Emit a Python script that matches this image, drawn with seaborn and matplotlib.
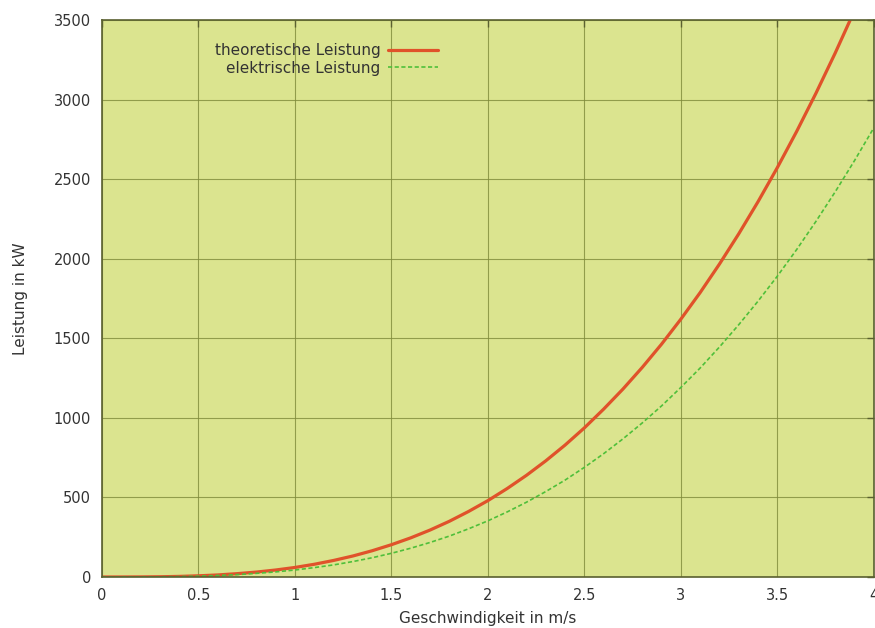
import matplotlib
matplotlib.use("Agg")
import matplotlib.pyplot as plt
import seaborn as sns
import pandas as pd

speed = [0.0, 0.1, 0.2, 0.3, 0.4, 0.5, 0.6, 0.7, 0.8, 0.9, 1.0, 1.1, 1.2, 1.3, 1.4,
         1.5, 1.6, 1.7, 1.8, 1.9, 2.0, 2.1, 2.2, 2.3, 2.4, 2.5, 2.6, 2.7, 2.8, 2.9,
         3.0, 3.1, 3.2, 3.3, 3.4, 3.5, 3.6, 3.7, 3.8, 3.9, 4.0]
theoretical = [0, 0.1, 0.5, 1.6, 3.8, 7.5, 13, 21, 31, 44, 60, 80, 104, 132, 165,
               203, 246, 295, 350, 412, 480, 556, 639, 730, 829, 937, 1055, 1181,
               1317, 1463, 1620, 1787, 1966, 2156, 2358, 2572, 2799, 3039, 3292,
               3559, 3840]
electrical = [0, 0.1, 0.4, 1.2, 2.8, 5.5, 9.5, 15, 23, 32, 44, 59, 76, 97, 121,
              149, 181, 217, 257, 303, 353, 409, 470, 537, 609, 689, 775, 868,
              968, 1075, 1191, 1313, 1445, 1585, 1733, 1890, 2057, 2234, 2420,
              2616, 2822]
x_ticks = [0, 0.5, 1, 1.5, 2, 2.5, 3, 3.5, 4]
x_tick_labels = ["0", "0.5", "1", "1.5", "2", "2.5", "3", "3.5", "4"]
y_ticks = [0, 500, 1000, 1500, 2000, 2500, 3000, 3500]

sns.set_style("white")
plt.rcParams['font.family'] = ['DejaVu Sans']

df = pd.DataFrame({"v": speed, "theo": theoretical, "el": electrical})

fig = plt.figure(figsize=(8.75, 6.28), dpi=100)
ax = fig.add_axes([0.1166, 0.0812, 0.882, 0.887])
ax.set_facecolor("#dbe48f")

sns.lineplot(data=df, x="v", y="theo", ax=ax, color="#e0522a", lw=2.3,
             label="theoretische Leistung")
sns.lineplot(data=df, x="v", y="el", ax=ax, color="#4fbf3a", lw=1.2,
             linestyle=(0, (2.5, 1.5)), label="elektrische Leistung")

ax.set_xlim(0, 4)
ax.set_ylim(0, 3500)
ax.set_xticks(x_ticks)
ax.set_xticklabels(x_tick_labels)
ax.set_yticks(y_ticks)
ax.grid(True, color="#7f8a3a", lw=0.8, alpha=0.8)
for s in ax.spines.values():
    s.set_color("#5a6030")
    s.set_linewidth(1.2)
ax.tick_params(direction="in", length=5, width=1, color="#5a6030",
               labelsize=10.5, labelcolor="#333333", top=True, right=True, pad=8)
ax.set_xlabel("Geschwindigkeit in m/s", fontsize=11, color="#333333", labelpad=6)
ax.set_ylabel("Leistung in kW", fontsize=11, color="#333333", labelpad=18)

leg = ax.legend(loc="upper left", bbox_to_anchor=(0.13, 0.98), frameon=False,
                markerfirst=False, fontsize=11, handlelength=3.3,
                labelspacing=0.15, handletextpad=0.5, borderpad=0.3)
for t in leg.get_texts():
    t.set_ha("right")
    t.set_color("#333333")
leg._legend_box.align = "right"

fig.savefig("out.png", dpi=100, facecolor="white")
